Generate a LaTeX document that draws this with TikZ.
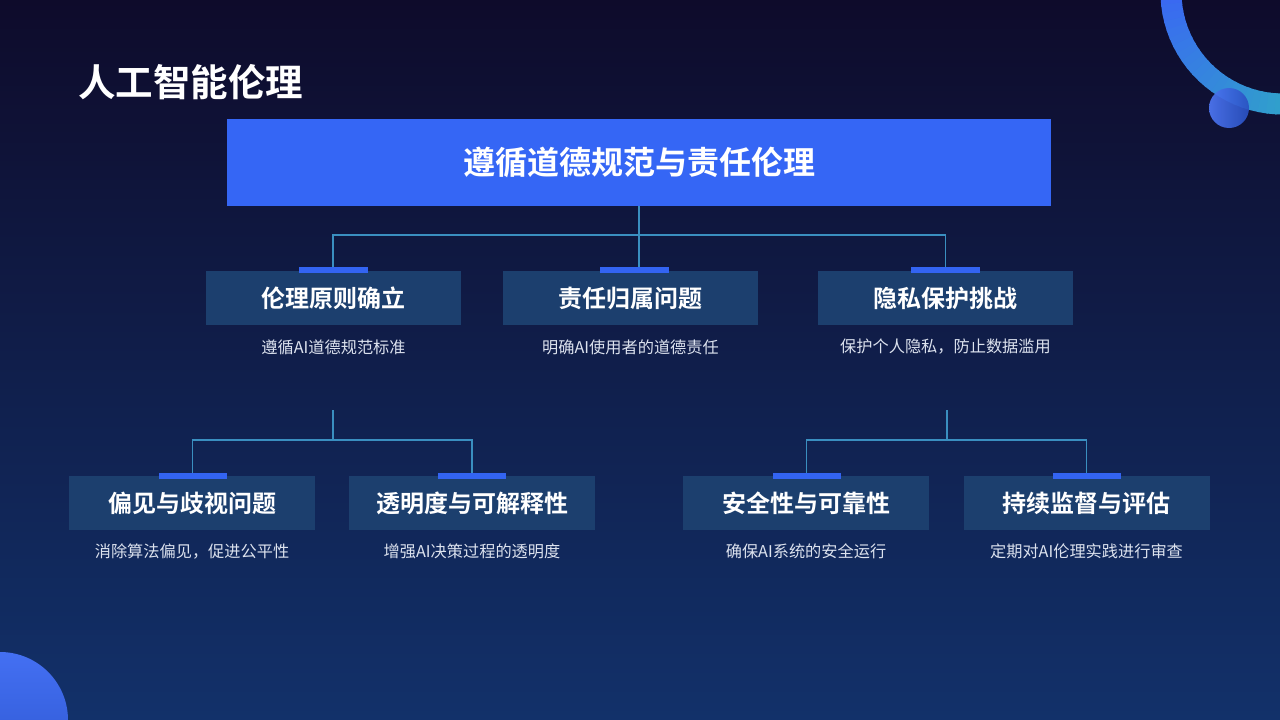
\documentclass[tikz,border=0pt]{standalone}
\usepackage{fontspec}
\setmainfont{Noto Sans CJK SC}[BoldFont={Noto Sans CJK SC Bold}]
\usetikzlibrary{positioning}
\definecolor{bgtop}{HTML}{0E0B2B}
\definecolor{bgbot}{HTML}{12316A}
\definecolor{mainblue}{HTML}{3566F5}
\definecolor{boxblue}{HTML}{1C3F6E}
\definecolor{barblue}{HTML}{3364F2}
\definecolor{linecol}{HTML}{3A8FC0}
\definecolor{subtxt}{HTML}{DCE2EE}
\definecolor{arcA}{HTML}{3A68F2}
\definecolor{arcB}{HTML}{2FA8C6}
\tikzset{
  lvbox/.style={fill=boxblue, draw=none, minimum width=255pt, minimum height=54pt, inner sep=0pt,
    text=white, font=\bfseries\fontsize{24}{28}\selectfont},
  lvbox3/.style={lvbox, minimum width=246pt},
  accent/.style={fill=barblue, draw=none, minimum width=69pt, minimum height=6pt, inner sep=0pt},
  subtext/.style={text=subtxt, font=\fontsize{16.2}{19}\selectfont, inner sep=0pt},
  conn/.style={draw=linecol, line width=1.3pt},
}
\begin{document}
\begin{tikzpicture}[x=1pt,y=-1pt]
\useasboundingbox (0,0) rectangle (1280,720);
\shade[top color=bgtop, bottom color=bgbot] (0,0) rectangle (1280,720);

% decorations
\begin{scope}
\clip (0,0) rectangle (1280,720);
\foreach \a in {182,178,...,78}{
  \pgfmathsetmacro{\t}{max(0,min(100,(180-\a)))}
  \colorlet{segc}{arcB!\t!arcA}
  \draw[segc, line width=21pt] plot[domain=\a:{\a-5}, samples=6, smooth] ({1283+112*cos(\x)},{-8+112*sin(\x)});
}
\shade[left color=arcA!90!white, right color=barblue!80!black, opacity=0.92] (1229,108) circle[radius=20];
\shade[top color=arcA!95!white, bottom color=barblue!85!black] (0,720) circle[radius=68];
\end{scope}

% title
\node[anchor=west, text=white, font=\bfseries\fontsize{37.5}{42}\selectfont, inner sep=0pt] (title) at (78,82) {人工智能伦理};

% top box
\node[fill=mainblue, minimum width=824pt, minimum height=87pt, inner sep=0pt, text=white,
      font=\bfseries\fontsize{32}{36}\selectfont] (b0) at (639,162.5) {遵循道德规范与责任伦理};

% level 2
\node[lvbox] (n1) at (333.5,298) {伦理原则确立};
\node[lvbox] (n2) at (630.5,298) {责任归属问题};
\node[lvbox] (n3) at (945.5,298) {隐私保护挑战};
\node[accent] (a1) at (333,270) {};
\node[accent] (a2) at (634.5,270) {};
\node[accent] (a3) at (945.5,270) {};
\node[subtext] (s1) at (333.5,347) {遵循AI道德规范标准};
\node[subtext] (s2) at (630.5,347) {明确AI使用者的道德责任};
\node[subtext] (s3) at (945.5,347) {保护个人隐私，防止数据滥用};

\coordinate (h0) at (639,235);
\draw[conn] (b0.south) -- (h0);
\draw[conn] (a1.north) -- (a1.north |- h0) -- (a3.north |- h0) -- (a3.north);
\draw[conn] (h0) -- (h0 |- a2.north);

% level 3
\node[lvbox3] (m1) at (192,503) {偏见与歧视问题};
\node[lvbox3] (m2) at (472,503) {透明度与可解释性};
\node[lvbox3] (m3) at (806,503) {安全性与可靠性};
\node[lvbox3] (m4) at (1086.5,503) {持续监督与评估};
\node[accent, minimum width=68pt] (c1) at (192.5,476) {};
\node[accent, minimum width=68pt] (c2) at (472,476) {};
\node[accent, minimum width=68pt] (c3) at (806.5,476) {};
\node[accent, minimum width=68pt] (c4) at (1086.5,476) {};
\node[subtext] (t1) at (192,551) {消除算法偏见，促进公平性};
\node[subtext] (t2) at (472,551) {增强AI决策过程的透明度};
\node[subtext] (t3) at (806,551) {确保AI系统的安全运行};
\node[subtext] (t4) at (1086.5,551) {定期对AI伦理实践进行审查};

\coordinate (p1) at (333,410);
\coordinate (q1) at (333,440);
\coordinate (p2) at (947,410);
\coordinate (q2) at (947,440);
\draw[conn] (p1) -- (q1);
\draw[conn] (c1.north) -- (c1.north |- q1) -- (c2.north |- q1) -- (c2.north);
\draw[conn] (p2) -- (q2);
\draw[conn] (c3.north) -- (c3.north |- q2) -- (c4.north |- q2) -- (c4.north);
\end{tikzpicture}
\end{document}
